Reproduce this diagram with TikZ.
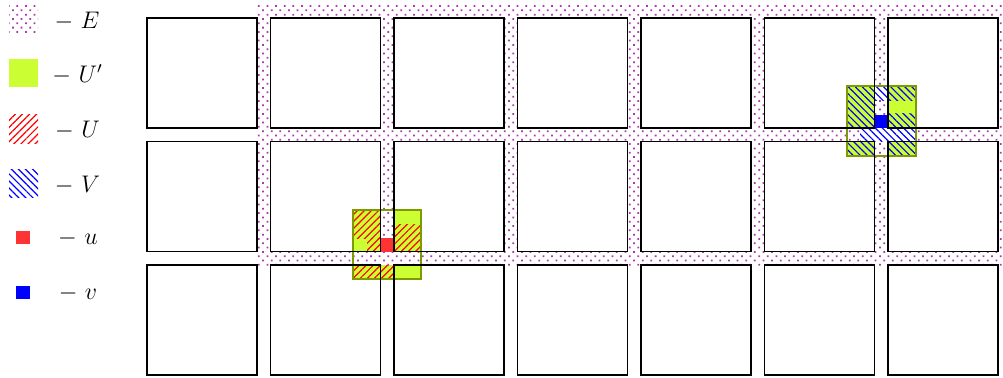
\documentclass[tikz,border=0pt]{standalone}
\usetikzlibrary{patterns,patterns.meta}
\definecolor{edot}{RGB}{168,60,168}
\definecolor{ugreen}{RGB}{204,255,51}
\definecolor{uborder}{RGB}{125,155,0}
\definecolor{ured}{RGB}{255,51,51}
\definecolor{vblue}{RGB}{0,0,255}
\begin{document}
\begin{tikzpicture}[x=0.5pt,y=-0.5pt,
  edots/.style={preaction={fill=white},pattern={Dots[distance=3.05pt,angle=45,radius=0.62pt]},pattern color=edot},
  whitebg/.style={fill=white},
  uhatch/.style={pattern={Lines[angle=45,distance=2.5pt,line width=0.6pt]},pattern color=red},
  vhatch/.style={pattern={Lines[angle=-45,distance=2.5pt,line width=0.6pt]},pattern color=vblue},
  greenbox/.style={fill=ugreen},
  greenedge/.style={draw=uborder,line width=1pt},
  cell/.style={draw=black,line width=0.65pt},
  lab/.style={anchor=base,inner sep=0pt,font=\fontsize{11.5pt}{13pt}\selectfont}]
\useasboundingbox (0,0) rectangle (1003,377);
\clip (0,0) rectangle (1003,377);
% region E
\path[edots] (256.5,4.5) rectangle (1011.5,265);
% white squares
\foreach \i in {0,...,6}{\foreach \j in {0,1,2}{
  \fill[white] ({147+123.5*\i},{18+123.5*\j}) rectangle +(110,110);
}}
% U' and V' green squares
\path[greenbox] (353,210) rectangle (421,279);
\path[greenbox] (847,86) rectangle (916,156);
% E inside U'
\path[edots] (353,251.5) rectangle (421,265);
\path[edots] (380.5,210) rectangle (394,251.5);
% E inside V'
\path[edots] (874.5,86) rectangle (888,156);
\path[edots] (847,128) rectangle (916,141.5);
\path[whitebg] (874.5,86) rectangle (888,100);
\path[whitebg] (860,128) rectangle (916,141.5);
% U hatch
\path[uhatch] (353,210) rectangle (380.5,238);
\path[uhatch] (367,238) rectangle (380.5,251.5);
\path[uhatch] (394,224) rectangle (421,251.5);
\path[uhatch] (353,265) rectangle (394,279);
% V hatch
\path[vhatch] (847,86) rectangle (874.5,128);
\path[vhatch] (888,86) rectangle (916,100);
\path[vhatch] (888,113) rectangle (916,128);
\path[vhatch] (847,141.5) rectangle (874.5,156);
\path[vhatch] (888,141.5) rectangle (916,156);
\path[vhatch] (874.5,86) rectangle (888,100);
\path[vhatch] (860,128) rectangle (916,141.5);
% u and v
\fill[ured] (381,238) rectangle (393.5,251.5);
\fill[vblue] (875,114.5) rectangle (887.5,128);
% green borders
\path[greenedge] (353,210) rectangle (421,279);
\path[greenedge] (847,86) rectangle (916,156);
% square outlines
\foreach \i in {0,...,6}{\foreach \j in {0,1,2}{
  \path[cell] ({147+123.5*\i},{18+123.5*\j}) rectangle +(110,110);
}}
% legend
\path[edots] (9,5) rectangle (38,33);
\path[greenbox] (9,59) rectangle (38,87);
\path[whitebg] (9,114) rectangle (38,143);
\path[uhatch] (9,114) rectangle (38,143);
\path[whitebg] (9,169) rectangle (38,197);
\path[vhatch] (9,169) rectangle (38,197);
\fill[ured] (16,231) rectangle (30,244);
\fill[vblue] (16,286) rectangle (30,299);
\node[lab] (lE) at (77,28) {$-$ $E$};
\node[lab] (lUp) at (77.5,82.5) {$-$ $U'$};
\node[lab] (lU) at (77.5,137) {$-$ $U$};
\node[lab] (lV) at (77.5,192) {$-$ $V$};
\node[lab] (lu) at (78,244) {$-$ $u$};
\node[lab] (lv) at (78,299) {$-$ $v$};
\end{tikzpicture}
\end{document}
